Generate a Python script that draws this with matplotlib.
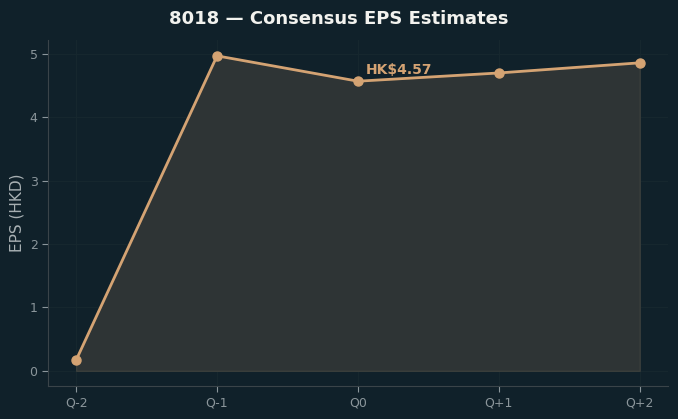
import matplotlib
matplotlib.use("Agg")
import matplotlib.pyplot as plt
import numpy as np

# data
quarters = ["Q-2", "Q-1", "Q0", "Q+1", "Q+2"]
eps = [0.17, 4.97, 4.57, 4.70, 4.86]
current_idx = 2

BG = "#10212a"
LINE = "#d4a373"
FILL = "#2e3435"
TXT = "#8b969b"

fig = plt.figure(figsize=(6.78, 4.19), dpi=100, facecolor=BG)
ax = fig.add_axes([0.0708, 0.0788, 0.9142, 0.8257])
ax.set_facecolor(BG)

x = np.arange(len(quarters))
ax.fill_between(x, 0, eps, color=FILL, edgecolor="#3a3f3c", linewidth=1, zorder=1)
ax.plot(x, eps, color=LINE, linewidth=2, marker="o", markersize=6.5, zorder=3)

ax.annotate("HK$%.2f" % eps[current_idx], (x[current_idx], eps[current_idx]),
            xytext=(6, 3), textcoords="offset points", color=LINE,
            fontsize=10, fontweight="bold", ha="left", va="bottom")

ax.set_xticks(x)
ax.set_xticklabels(quarters)
ax.set_xlim(-0.2, 4.2)
ax.set_ylim(-0.24, 5.22)
ax.set_yticks([0, 1, 2, 3, 4, 5])

ax.grid(True, color="#16272e", linewidth=0.8, zorder=0)
ax.set_axisbelow(True)
for s in ["top", "right"]:
    ax.spines[s].set_visible(False)
for s in ["left", "bottom"]:
    ax.spines[s].set_color("#3a4449")
ax.tick_params(colors=TXT, labelsize=9, length=4)

ax.set_ylabel("EPS (HKD)", color="#a8b0b3", fontsize=11)
fig.suptitle("8018 — Consensus EPS Estimates", color="#f2f2ee",
             fontsize=13, fontweight="bold", y=0.975)

fig.savefig("out.png", dpi=100, facecolor=BG)
